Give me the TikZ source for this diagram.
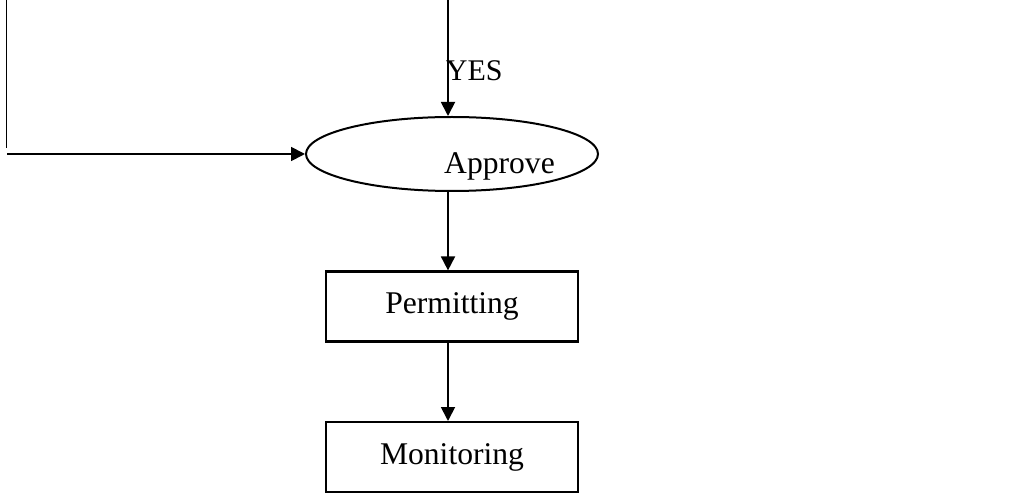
\documentclass[tikz,border=0pt]{standalone}
\usepackage{fontspec}
\setmainfont{Liberation Serif}
\usetikzlibrary{arrows.meta, positioning, shapes.geometric}
\tikzset{
  stepbox/.style ={rectangle, draw=black, line width=1.1pt,
                   minimum width=126pt, minimum height=35pt,
                   align=center, inner sep=0pt},
  oval/.style    ={ellipse, draw=black, line width=1pt,
                   minimum width=146pt, minimum height=37pt, inner sep=0pt},
  ar/.style      ={-{Triangle[length=7pt, width=7pt]}, line width=0.9pt, black},
  ln/.style      ={line width=0.9pt, black}
}

\begin{document}
\begin{tikzpicture}[
  x=0.5pt, y=-0.5pt,
  font=\fontsize{15.8}{19}\selectfont,
  lbl/.style={font=\fontsize{15}{18}\selectfont, inner sep=0pt}
]
\useasboundingbox (0,0) rectangle (1021,497);

\node[oval, label={[anchor=base, xshift=23.75pt, yshift=-6.35pt,
      inner sep=0pt]center:Approve}] (approve) at (452,154) {};
\node[stepbox, below=39.2pt of approve] (permit) {Permitting};
\node[stepbox, below=39.2pt of permit] (monitor) {Monitoring};

% incoming lines from above
\coordinate (top) at (448,0);
\coordinate (lefttop) at (6.5,0);
\coordinate (leftbot) at (6.5,148);
\coordinate (leftin) at (7,154);

\draw[ar] (top) -- node[lbl, pos=0.69, anchor=base west, xshift=-1.5pt]{YES}
  (top |- approve.north);
\draw[ln] (lefttop) -- (leftbot);
\draw[ar] (leftin) -- (approve.west);

\draw[ar] (approve.south -| top) -- (permit.north -| top);
\draw[ar] (permit.south -| top) -- (monitor.north -| top);

\end{tikzpicture}
\end{document}
